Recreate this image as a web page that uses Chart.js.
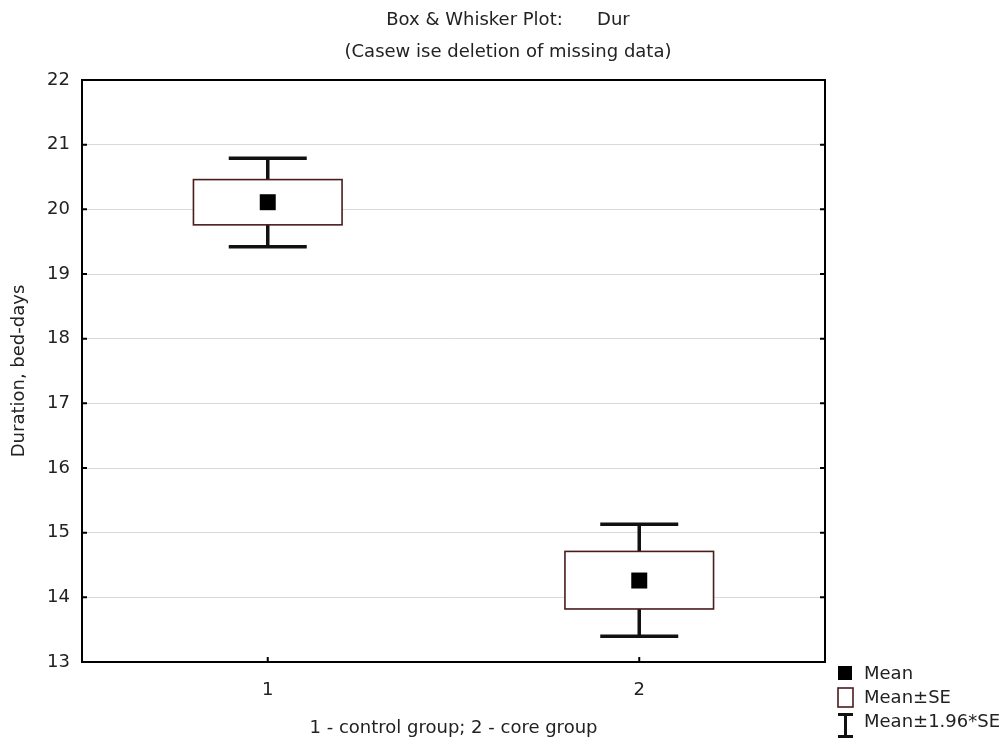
<!DOCTYPE html>
<html>
<head>
<meta charset="utf-8">
<script src="https://cdn.jsdelivr.net/npm/chart.js@4"></script>
<style>
  html, body { margin: 0; padding: 0; background: #fff; }
  #wrap { width: 1003px; height: 740px; }
</style>
</head>
<body>
<div id="wrap"><canvas id="boxChart" width="1003" height="740"></canvas></div>
<script>
// groups on the x axis
const groupLabels = ['1', '2'];
const groupX = [1, 2];
// Duration, bed-days
const means = [20.11, 14.26];
const seLow = [19.76, 13.82];
const seHigh = [20.46, 14.71];
const ciLow = [19.42, 13.40];   // mean - 1.96*SE
const ciHigh = [20.79, 15.13];  // mean + 1.96*SE
const yTicks = [13, 14, 15, 16, 17, 18, 19, 20, 21, 22];
const titleLines = ['Box & Whisker Plot:      Dur', '(Casew ise deletion of missing data)'];
const legendItems = ['Mean', 'Mean\u00b1SE', 'Mean\u00b11.96*SE'];

const FONT = '"DejaVu Sans", sans-serif';
const ctx = document.getElementById('boxChart').getContext('2d');

// boxes, whiskers, frame, inner ticks, title and legend
const boxWhisker = {
  id: 'boxWhisker',
  beforeDatasetsDraw(chart) {
    const { ctx, scales: { x, y } } = chart;
    ctx.save();
    groupX.forEach((gx, i) => {
      const cx = x.getPixelForValue(gx);
      const bx0 = x.getPixelForValue(gx - 0.2), bx1 = x.getPixelForValue(gx + 0.2);
      const cx0 = x.getPixelForValue(gx - 0.105), cx1 = x.getPixelForValue(gx + 0.105);
      const yHi = y.getPixelForValue(ciHigh[i]), yLo = y.getPixelForValue(ciLow[i]);
      const bTop = y.getPixelForValue(seHigh[i]), bBot = y.getPixelForValue(seLow[i]);

      ctx.strokeStyle = '#111';
      ctx.lineWidth = 3.5;
      ctx.beginPath();
      ctx.moveTo(cx, yHi); ctx.lineTo(cx, bTop);
      ctx.moveTo(cx, bBot); ctx.lineTo(cx, yLo);
      ctx.moveTo(cx0, yHi); ctx.lineTo(cx1, yHi);
      ctx.moveTo(cx0, yLo); ctx.lineTo(cx1, yLo);
      ctx.stroke();

      ctx.fillStyle = '#fff';
      ctx.fillRect(bx0, bTop, bx1 - bx0, bBot - bTop);
      ctx.strokeStyle = '#4a1c1c';
      ctx.lineWidth = 1.6;
      ctx.strokeRect(bx0, bTop, bx1 - bx0, bBot - bTop);
    });
    ctx.restore();
  },
  afterDraw(chart) {
    const { ctx, chartArea: a, scales: { x, y } } = chart;
    ctx.save();
    ctx.strokeStyle = '#000';
    ctx.lineWidth = 2;
    ctx.strokeRect(a.left, a.top, a.right - a.left, a.bottom - a.top);
    ctx.beginPath();
    yTicks.forEach(v => {
      const py = y.getPixelForValue(v);
      ctx.moveTo(a.left, py); ctx.lineTo(a.left + 5, py);
      ctx.moveTo(a.right, py); ctx.lineTo(a.right - 5, py);
    });
    groupX.forEach(v => {
      const px = x.getPixelForValue(v);
      ctx.moveTo(px, a.bottom); ctx.lineTo(px, a.bottom - 5);
    });
    ctx.stroke();

    // title
    ctx.fillStyle = '#222';
    ctx.font = '18px ' + FONT;
    ctx.textBaseline = 'middle';
    ctx.textAlign = 'center';
    ctx.fillText(titleLines[0], 508, 20);
    ctx.fillText(titleLines[1], 508, 52);

    // legend
    const lx = a.right + 13;
    ctx.fillStyle = '#000';
    ctx.fillRect(lx, 666, 14, 14);
    ctx.strokeStyle = '#4a1c1c';
    ctx.lineWidth = 1.6;
    ctx.strokeRect(lx, 688, 15, 19);
    ctx.strokeStyle = '#111';
    ctx.lineWidth = 3;
    ctx.beginPath();
    ctx.moveTo(lx + 7.5, 714); ctx.lineTo(lx + 7.5, 737);
    ctx.moveTo(lx, 714.5); ctx.lineTo(lx + 15, 714.5);
    ctx.moveTo(lx, 736.5); ctx.lineTo(lx + 15, 736.5);
    ctx.stroke();
    ctx.fillStyle = '#222';
    ctx.textAlign = 'left';
    [674, 698, 722].forEach((ty, i) => ctx.fillText(legendItems[i], lx + 26, ty));
    ctx.restore();
  }
};

new Chart(ctx, {
  type: 'scatter',
  data: {
    datasets: [{
      label: 'Mean',
      data: groupX.map((gx, i) => ({ x: gx, y: means[i] })),
      pointStyle: 'rect',
      pointRadius: 11.3,
      pointHoverRadius: 11.3,
      backgroundColor: '#000',
      borderColor: '#000',
      borderWidth: 0
    }]
  },
  options: {
    responsive: false,
    animation: false,
    layout: { padding: { left: 0, right: 178, top: 80, bottom: 0 } },
    plugins: {
      legend: { display: false },
      tooltip: { enabled: false },
      title: { display: false }
    },
    scales: {
      x: {
        type: 'linear',
        min: 0.5,
        max: 2.5,
        afterBuildTicks: s => { s.ticks = groupX.map(v => ({ value: v })); },
        afterFit: s => { s.height = 78; },
        grid: { display: false, drawTicks: false },
        border: { display: false },
        ticks: {
          color: '#222',
          padding: 18,
          font: { family: FONT, size: 18 },
          callback: v => groupLabels[groupX.indexOf(v)]
        },
        title: {
          display: true,
          text: '1 - control group; 2 - core group',
          color: '#222',
          font: { family: FONT, size: 18 },
          padding: { top: 0, bottom: 1 }
        }
      },
      y: {
        min: 13,
        max: 22,
        afterBuildTicks: s => { s.ticks = yTicks.map(v => ({ value: v })); },
        afterFit: s => { s.width = 82; },
        grid: { color: '#d9d9d9', lineWidth: 1, drawTicks: false },
        border: { display: false },
        ticks: {
          color: '#222',
          padding: 12,
          font: { family: FONT, size: 18 }
        },
        title: {
          display: true,
          text: 'Duration, bed-days',
          color: '#222',
          font: { family: FONT, size: 18 },
          padding: { top: 9, bottom: 0 }
        }
      }
    }
  },
  plugins: [boxWhisker]
});
</script>
</body>
</html>
